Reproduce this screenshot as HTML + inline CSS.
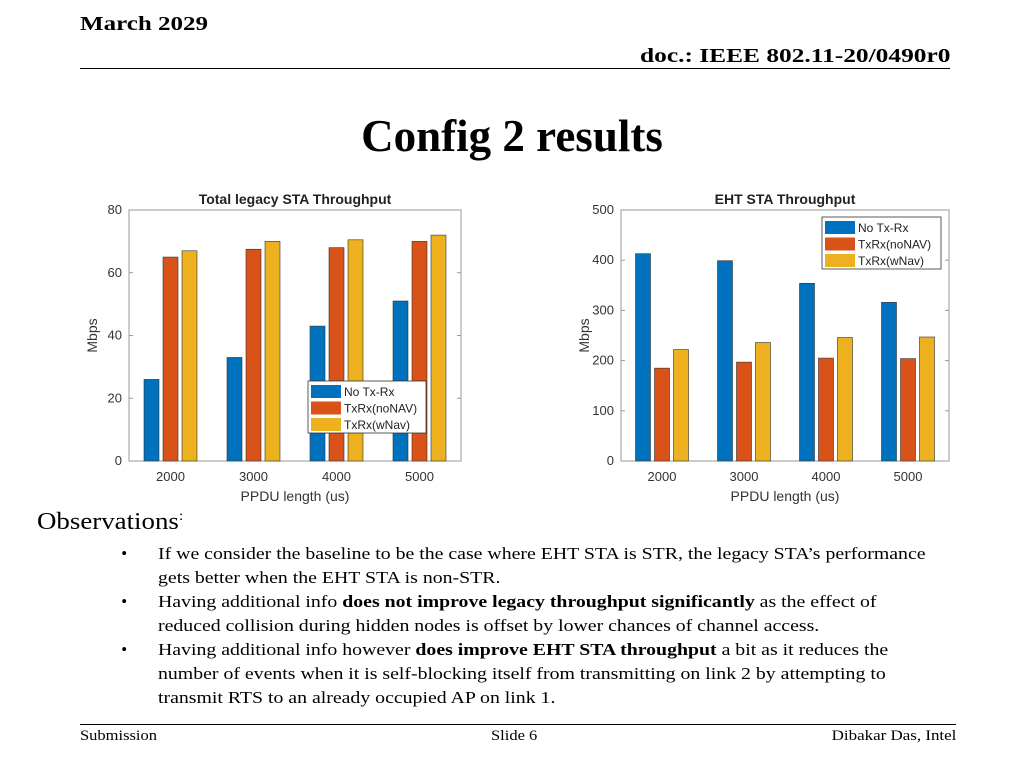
<!DOCTYPE html>
<html><head><meta charset="utf-8"><style>
body{margin:0;width:1024px;height:768px;background:#fff;position:relative;overflow:hidden;font-family:"Liberation Serif",serif}
.a{position:absolute;white-space:nowrap}
ul{margin:0;padding:0;list-style:none}
li{position:relative}
li:before{content:"•";position:absolute;left:-32px;transform:scaleX(0.85)}
</style></head><body>
<div class="a" style="left:80px;top:13px;font-size:20px;font-weight:bold;transform:scaleX(1.25);transform-origin:left">March 2029</div>
<div class="a" style="right:74px;top:45px;font-size:20px;font-weight:bold;transform:scaleX(1.27);transform-origin:right">doc.: IEEE 802.11-20/0490r0</div>
<div class="a" style="left:80px;top:68px;width:870px;height:1px;background:#000"></div>
<div class="a" style="left:0;width:1024px;text-align:center;top:110px;font-size:45px;font-weight:bold">Config 2 results</div>
<svg class="a" style="left:0;top:0" width="1024" height="520" id="svg"></svg>
<div class="a" style="left:37px;top:509px;font-size:24px;transform:scaleX(1.12);transform-origin:left">Observations<sup style="font-size:14px">:</sup></div>
<ul class="a" style="left:158px;top:542px;font-size:17px;line-height:24px;white-space:normal;width:667px;transform:scaleX(1.165);transform-origin:left">
<li>If we consider the baseline to be the case where EHT STA is STR, the legacy STA’s performance gets better when the EHT STA is non-STR.</li>
<li>Having additional info <b>does not improve legacy throughput significantly</b> as the effect of reduced collision during hidden nodes is offset by lower chances of channel access.</li>
<li>Having additional info however <b>does improve EHT STA throughput</b> a bit as it reduces the number of events when it is self-blocking itself from transmitting on link 2 by attempting to transmit RTS to an already occupied AP on link 1.</li>
</ul>
<div class="a" style="left:80px;top:724px;width:876px;height:1px;background:#000"></div>
<div class="a" style="left:80px;top:728px;font-size:15px;transform:scaleX(1.1);transform-origin:left">Submission</div>
<div class="a" style="left:491px;top:728px;font-size:15px;transform:scaleX(1.1);transform-origin:left">Slide 6</div>
<div class="a" style="right:68px;top:728px;font-size:15px;transform:scaleX(1.13);transform-origin:right">Dibakar Das, Intel</div>
<script>
const categories=["2000","3000","4000","5000"];
const seriesNames=["No Tx-Rx","TxRx(noNAV)","TxRx(wNav)"];
const legacyNoTxRx=[26,33,43,51];
const legacyNoNAV=[65,67.5,68,70];
const legacyWNav=[67,70,70.5,72];
const ehtNoTxRx=[413,399,354,316];
const ehtNoNAV=[185,197,205,204];
const ehtWNav=[222,236,246,247];
const legacyTicks=[0,20,40,60,80];
const ehtTicks=[0,100,200,300,400,500];
const colors=["#0072BD","#D95319","#EDB120"];
const NS="http://www.w3.org/2000/svg";
const svg=document.getElementById('svg');
function mk(t,a,p){const e=document.createElementNS(NS,t);for(const k in a)e.setAttribute(k,a[k]);(p||svg).appendChild(e);return e;}
function chart(name,x0,x1,y0,y1,ymax,ticks,series,title,leg){
  const g=mk('g',{});
  
  
  const ys=v=>y1-(v/ymax)*(y1-y0);
  const gw=(x1-x0)/categories.length;
  mk('rect',{x:x0,y:y0,width:x1-x0,height:y1-y0,fill:'#fff',stroke:'#999'},g);
  ticks.forEach(t=>{const y=ys(t);
    mk('line',{x1:x0,x2:x0+4,y1:y,y2:y,stroke:'#999'},g);mk('line',{x1:x1-4,x2:x1,y1:y,y2:y,stroke:'#999'},g);
    const tx=mk('text',{x:x0-7,y:y+4,'text-anchor':'end','font-size':13,fill:'#333','font-family':'Liberation Sans'},g);tx.textContent=t;
    
    });
  categories.forEach((c,i)=>{const cx=x0+gw*(i+0.5);
    mk('line',{x1:cx,x2:cx,y1:y1,y2:y1-4,stroke:'#999'},g);
    const tx=mk('text',{x:cx,y:y1+20,'text-anchor':'middle','font-size':13,fill:'#333','font-family':'Liberation Sans'},g);tx.textContent=c;
    
    
    series.forEach((s,j)=>{const bx=cx+(j-1)*19-7.5;const r=mk('rect',{x:bx,y:ys(s[i]),width:15,height:ys(0)-ys(s[i]),fill:colors[j],stroke:'#333','stroke-width':0.6},g);
      
      });
  });
  let t=mk('text',{x:(x0+x1)/2,y:y0-6,'text-anchor':'middle','font-size':14,'font-weight':'bold',fill:'#222','font-family':'Liberation Sans'},g);t.textContent=title;
  
  
  t=mk('text',{x:(x0+x1)/2,y:y1+40,'text-anchor':'middle','font-size':14,fill:'#333','font-family':'Liberation Sans'},g);t.textContent='PPDU length (us)';
  
  
  t=mk('text',{x:0,y:0,transform:`translate(${x0-32},${(y0+y1)/2}) rotate(-90)`,'text-anchor':'middle','font-size':14,fill:'#333','font-family':'Liberation Sans'},g);t.textContent='Mbps';
  
  
  const lg=mk('g',{},g);
  
  
  mk('rect',{x:leg[0],y:leg[1],width:leg[2],height:52,fill:'#fff',stroke:'#333','stroke-width':0.8},lg);
  seriesNames.forEach((n,j)=>{const yy=leg[1]+4+j*16.5;
    mk('rect',{x:leg[0]+3,y:yy,width:30,height:13,fill:colors[j]},lg);
    const tt=mk('text',{x:leg[0]+36,y:yy+11,'font-size':12,fill:'#222','font-family':'Liberation Sans'},lg);tt.textContent=n;
    
    });
}
chart('legacy-chart',129,461,210,461,80,legacyTicks,[legacyNoTxRx,legacyNoNAV,legacyWNav],'Total legacy STA Throughput',[308,381,118]);
chart('eht-chart',621,949,210,461,500,ehtTicks,[ehtNoTxRx,ehtNoNAV,ehtWNav],'EHT STA Throughput',[822,217,119]);
</script>
</body></html>
